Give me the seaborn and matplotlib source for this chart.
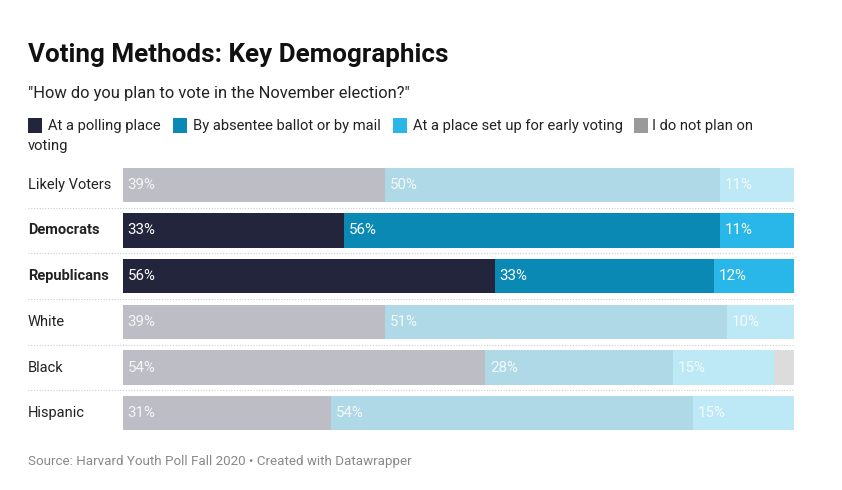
import matplotlib
matplotlib.use("Agg")
import matplotlib.pyplot as plt
import matplotlib.transforms as mtransforms
from matplotlib.patches import Rectangle
import seaborn as sns
import pandas as pd
import numpy as np

categories = ["Likely Voters", "Democrats", "Republicans", "White", "Black", "Hispanic"]
highlighted = ["Democrats", "Republicans"]
series_names = ["At a polling place", "By absentee ballot or by mail",
                "At a place set up for early voting", "I do not plan on voting"]
polling = [39, 33, 56, 39, 54, 31]
absentee = [50, 56, 33, 51, 28, 54]
early = [11, 11, 12, 10, 15, 15]
no_plan = [0, 0, 0, 0, 3, 0]

colors = ["#23253c", "#0a89b4", "#29b6e8", "#9a9a9a"]
faded = ["#bdbdc6", "#afd9e6", "#bde8f6", "#dcdcdc"]

sns.set_theme(style="white")
plt.rcParams["font.family"] = ["Roboto", "DejaVu Sans"]

values = np.array([polling, absentee, early, no_plan], dtype=float)  # series x rows
totals = values.sum(axis=0)
norm = values / totals * 100.0
cum = np.cumsum(norm, axis=0)

fig = plt.figure(figsize=(8.42, 4.90), dpi=100)
ax = fig.add_axes([123 / 842, 1 - 436 / 490, (794 - 123) / 842, (436 - 162) / 490])

for k in range(3, -1, -1):
    df = pd.DataFrame({"group": categories, "cum": cum[k]})
    pal = {c: (colors[k] if c in highlighted else faded[k]) for c in categories}
    sns.barplot(data=df, x="cum", y="group", hue="group", palette=pal, order=categories,
                hue_order=categories, width=0.75, legend=False, ax=ax,
                saturation=1, linewidth=0, orient="h")

ax.set_xlim(0, 100)
ax.set_ylim(len(categories) - 0.5, -0.5)
ax.set_axis_off()

# segment labels
for i, cat in enumerate(categories):
    for k in range(4):
        v = values[k, i]
        if v < 5:
            continue
        left = cum[k, i] - norm[k, i]
        ax.text(left + 0.7, i, f"{int(v)}%", va="center", ha="left",
                color="white", fontsize=10.8,
                alpha=1.0 if cat in highlighted else 0.85)

# row labels and separators
blend = mtransforms.blended_transform_factory(fig.transFigure, ax.transData)
for i, cat in enumerate(categories):
    ax.text(28 / 842, i, cat, transform=blend, va="center", ha="left",
            fontsize=10.5, color="#222222",
            fontweight="bold" if cat in highlighted else "normal")
for i in range(len(categories) - 1):
    ax.plot([28 / 842, 794 / 842], [i + 0.5, i + 0.5], transform=blend,
            color="#cccccc", linestyle=(0, (1, 1.5)), linewidth=0.8, clip_on=False)

# title, subtitle
fig.text(28 / 842, 1 - 55 / 490, "Voting Methods: Key Demographics", fontsize=18.7,
         fontweight="bold", color="#111111", va="center", ha="left")
fig.text(28 / 842, 1 - 93 / 490, "\"How do you plan to vote in the November election?\"",
         fontsize=11.9, color="#222222", va="center", ha="left")

# legend
leg_pos = [(28, 48), (173, 193), (393, 413), (634, 652)]
leg_texts = ["At a polling place", "By absentee ballot or by mail",
             "At a place set up for early voting", "I do not plan on"]
for (sx, tx), txt, col in zip(leg_pos, leg_texts, colors):
    fig.patches.append(Rectangle((sx / 842, 1 - 133 / 490), 14 / 842, 15 / 490,
                                 transform=fig.transFigure, facecolor=col,
                                 edgecolor="none"))
    fig.text(tx / 842, 1 - 126 / 490, txt, fontsize=10.6, color="#222222",
             va="center", ha="left")
fig.text(28 / 842, 1 - 146 / 490, "voting", fontsize=10.6, color="#222222",
         va="center", ha="left")

fig.text(28 / 842, 1 - 461 / 490, "Source: Harvard Youth Poll Fall 2020 \u2022 Created with Datawrapper",
         fontsize=9.6, color="#888888", va="center", ha="left")

fig.savefig("out.png", dpi=100)
